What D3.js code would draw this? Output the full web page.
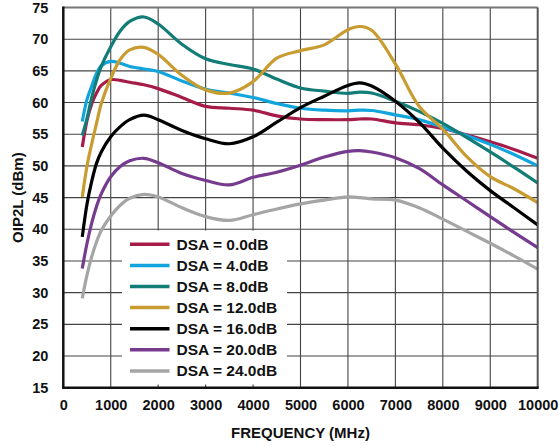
<!DOCTYPE html>
<html>
<head>
<meta charset="utf-8">
<script src="https://cdn.jsdelivr.net/npm/d3@7"></script>
<style>
  html, body { margin: 0; padding: 0; background: #fff; }
  svg { display: block; }
  text { font-family: "Liberation Sans", Arial, Helvetica, sans-serif; font-weight: bold; fill: #111; }
</style>
</head>
<body>
<svg id="chart" width="559" height="446"></svg>
<script>
// ---- data ----
const freqs = [400, 500, 600, 700, 800, 1000, 1200, 1400, 1700, 2000, 2500, 3000, 3500, 4000, 4500, 5000, 5500, 6000, 6250, 6500, 7000, 7500, 8000, 8500, 9000, 9500, 10000];
const dsa0  = [53.0, 57.2, 59.8, 61.5, 62.7, 63.6, 63.5, 63.2, 62.8, 62.2, 60.8, 59.4, 59.1, 58.8, 57.9, 57.4, 57.3, 57.3, 57.4, 57.4, 56.8, 56.5, 55.9, 54.9, 53.8, 52.6, 51.2];
const dsa4  = [57.0, 60.5, 62.6, 64.6, 65.8, 66.5, 66.2, 65.7, 65.3, 64.9, 63.4, 62.1, 61.5, 60.8, 59.85, 59.1, 58.8, 58.7, 58.8, 58.75, 58.05, 57.3, 56.1, 54.8, 53.4, 51.8, 50.0];
const dsa8  = [54.8, 57.5, 60.8, 63.5, 65.7, 68.8, 71.3, 72.8, 73.5, 72.4, 69.2, 66.9, 66.0, 65.3, 63.7, 62.3, 61.8, 61.45, 61.65, 61.5, 60.2, 58.6, 56.7, 54.5, 52.2, 49.8, 47.3];
const dsa12 = [45.1, 50.0, 53.5, 56.7, 59.8, 63.8, 66.8, 68.3, 68.7, 67.6, 64.3, 62.0, 61.5, 63.3, 67.0, 68.2, 69.1, 71.5, 72.0, 71.4, 66.1, 59.4, 55.8, 51.5, 48.3, 46.4, 44.2];
const dsa16 = [38.8, 44.0, 47.6, 50.4, 52.2, 54.6, 56.2, 57.3, 58.0, 57.3, 55.6, 54.3, 53.5, 54.6, 56.9, 59.2, 61.0, 62.7, 63.1, 62.6, 60.2, 56.9, 52.8, 49.2, 46.1, 43.4, 40.7];
const dsa20 = [33.8, 37.8, 41.0, 43.6, 45.6, 48.3, 49.9, 50.8, 51.2, 50.5, 48.8, 47.7, 47.0, 48.2, 49.0, 50.1, 51.4, 52.3, 52.4, 52.2, 51.3, 49.6, 47.0, 44.5, 42.0, 39.5, 37.1];
const dsa24 = [29.1, 32.8, 35.7, 38.0, 39.8, 42.1, 43.8, 44.9, 45.5, 45.1, 43.4, 42.0, 41.4, 42.3, 43.2, 44.0, 44.6, 45.1, 45.0, 44.8, 44.6, 43.4, 41.6, 39.7, 37.8, 35.8, 33.7];
const seriesNames = ["DSA = 0.0dB", "DSA = 4.0dB", "DSA = 8.0dB", "DSA = 12.0dB", "DSA = 16.0dB", "DSA = 20.0dB", "DSA = 24.0dB"];
const seriesColors = ["#A51C48", "#12A4DC", "#127C77", "#C89C30", "#000000", "#763A8E", "#A5A5A5"];
const xTicks = [0, 1000, 2000, 3000, 4000, 5000, 6000, 7000, 8000, 9000, 10000];
const yTicks = [15, 20, 25, 30, 35, 40, 45, 50, 55, 60, 65, 70, 75];
const xTitle = "FREQUENCY (MHz)";
const yTitle = "OIP2L (dBm)";

const seriesValues = [dsa0, dsa4, dsa8, dsa12, dsa16, dsa20, dsa24];

// ---- layout ----
const svg = d3.select("#chart");
const L = 63.3, R = 537.7, T = 7.5, B = 387.7;
const x = d3.scaleLinear().domain([0, 10000]).range([L, R]);
const y = d3.scaleLinear().domain([15, 75]).range([B, T]);

// grid
const grid = svg.append("g");
grid.selectAll("line.v").data(xTicks.slice(1, -1)).join("line")
  .attr("x1", d => x(d)).attr("x2", d => x(d)).attr("y1", T).attr("y2", B)
  .attr("stroke", "#444").attr("stroke-width", 1.1);
grid.selectAll("line.h").data(yTicks.slice(1, -1)).join("line")
  .attr("x1", L).attr("x2", R).attr("y1", d => y(d)).attr("y2", d => y(d))
  .attr("stroke", "#444").attr("stroke-width", 1.1);

// legend background (hides grid)
svg.append("rect").attr("x", 122).attr("y", 230.5).attr("width", 165).attr("height", 154)
  .attr("fill", "#fff");

// curves
const line = d3.line().x(d => x(d[0])).y(d => y(d[1])).curve(d3.curveCatmullRom.alpha(0.5));
const gLines = svg.append("g");
seriesValues.forEach((vals, i) => {
  gLines.append("path")
    .datum(freqs.map((f, j) => [f, vals[j]]))
    .attr("d", line)
    .attr("fill", "none")
    .attr("stroke", seriesColors[i])
    .attr("stroke-width", 3.2)
    .attr("stroke-linejoin", "round");
});

// frame
svg.append("line").attr("x1", L).attr("x2", R).attr("y1", T).attr("y2", T).attr("stroke", "#777").attr("stroke-width", 2);
svg.append("line").attr("x1", R).attr("x2", R).attr("y1", T).attr("y2", B).attr("stroke", "#555").attr("stroke-width", 2);
svg.append("line").attr("x1", L).attr("x2", L).attr("y1", T - 1).attr("y2", B + 1).attr("stroke", "#111").attr("stroke-width", 2.5);
svg.append("line").attr("x1", L - 1).attr("x2", R + 1).attr("y1", B).attr("y2", B).attr("stroke", "#111").attr("stroke-width", 2.5);

// axes labels via d3 axes
const xAxis = d3.axisBottom(x).tickValues(xTicks).tickSize(0).tickPadding(12).tickFormat(d3.format("d"));
const gx = svg.append("g").attr("transform", `translate(0,${B})`).call(xAxis);
gx.select(".domain").remove();
gx.selectAll("text").style("font-size", "14.5px").style("font-family", "'Liberation Sans', Arial, sans-serif").style("font-weight", "bold").attr("fill", "#111");

const yAxis = d3.axisLeft(y).tickValues(yTicks).tickSize(0).tickPadding(15);
const gy = svg.append("g").attr("transform", `translate(${L},0)`).call(yAxis);
gy.select(".domain").remove();
gy.selectAll("text").style("font-size", "14.5px").style("font-family", "'Liberation Sans', Arial, sans-serif").style("font-weight", "bold").attr("fill", "#111");

// titles
svg.append("text").attr("x", (L + R) / 2).attr("y", 438).attr("text-anchor", "middle")
  .style("font-size", "15px").text(xTitle);
svg.append("text").attr("transform", `translate(23,${(T + B) / 2}) rotate(-90)`).attr("text-anchor", "middle")
  .style("font-size", "15px").text(yTitle);

// legend
const leg = svg.append("g");
seriesNames.forEach((name, i) => {
  const cy = 244.3 + i * 21.1;
  leg.append("line").attr("x1", 130).attr("x2", 169.5).attr("y1", cy).attr("y2", cy)
    .attr("stroke", seriesColors[i]).attr("stroke-width", 3.5);
  leg.append("text").attr("x", 176.5).attr("y", cy).attr("dy", "0.36em")
    .style("font-size", "15.5px").text(name);
});
</script>
</body>
</html>
